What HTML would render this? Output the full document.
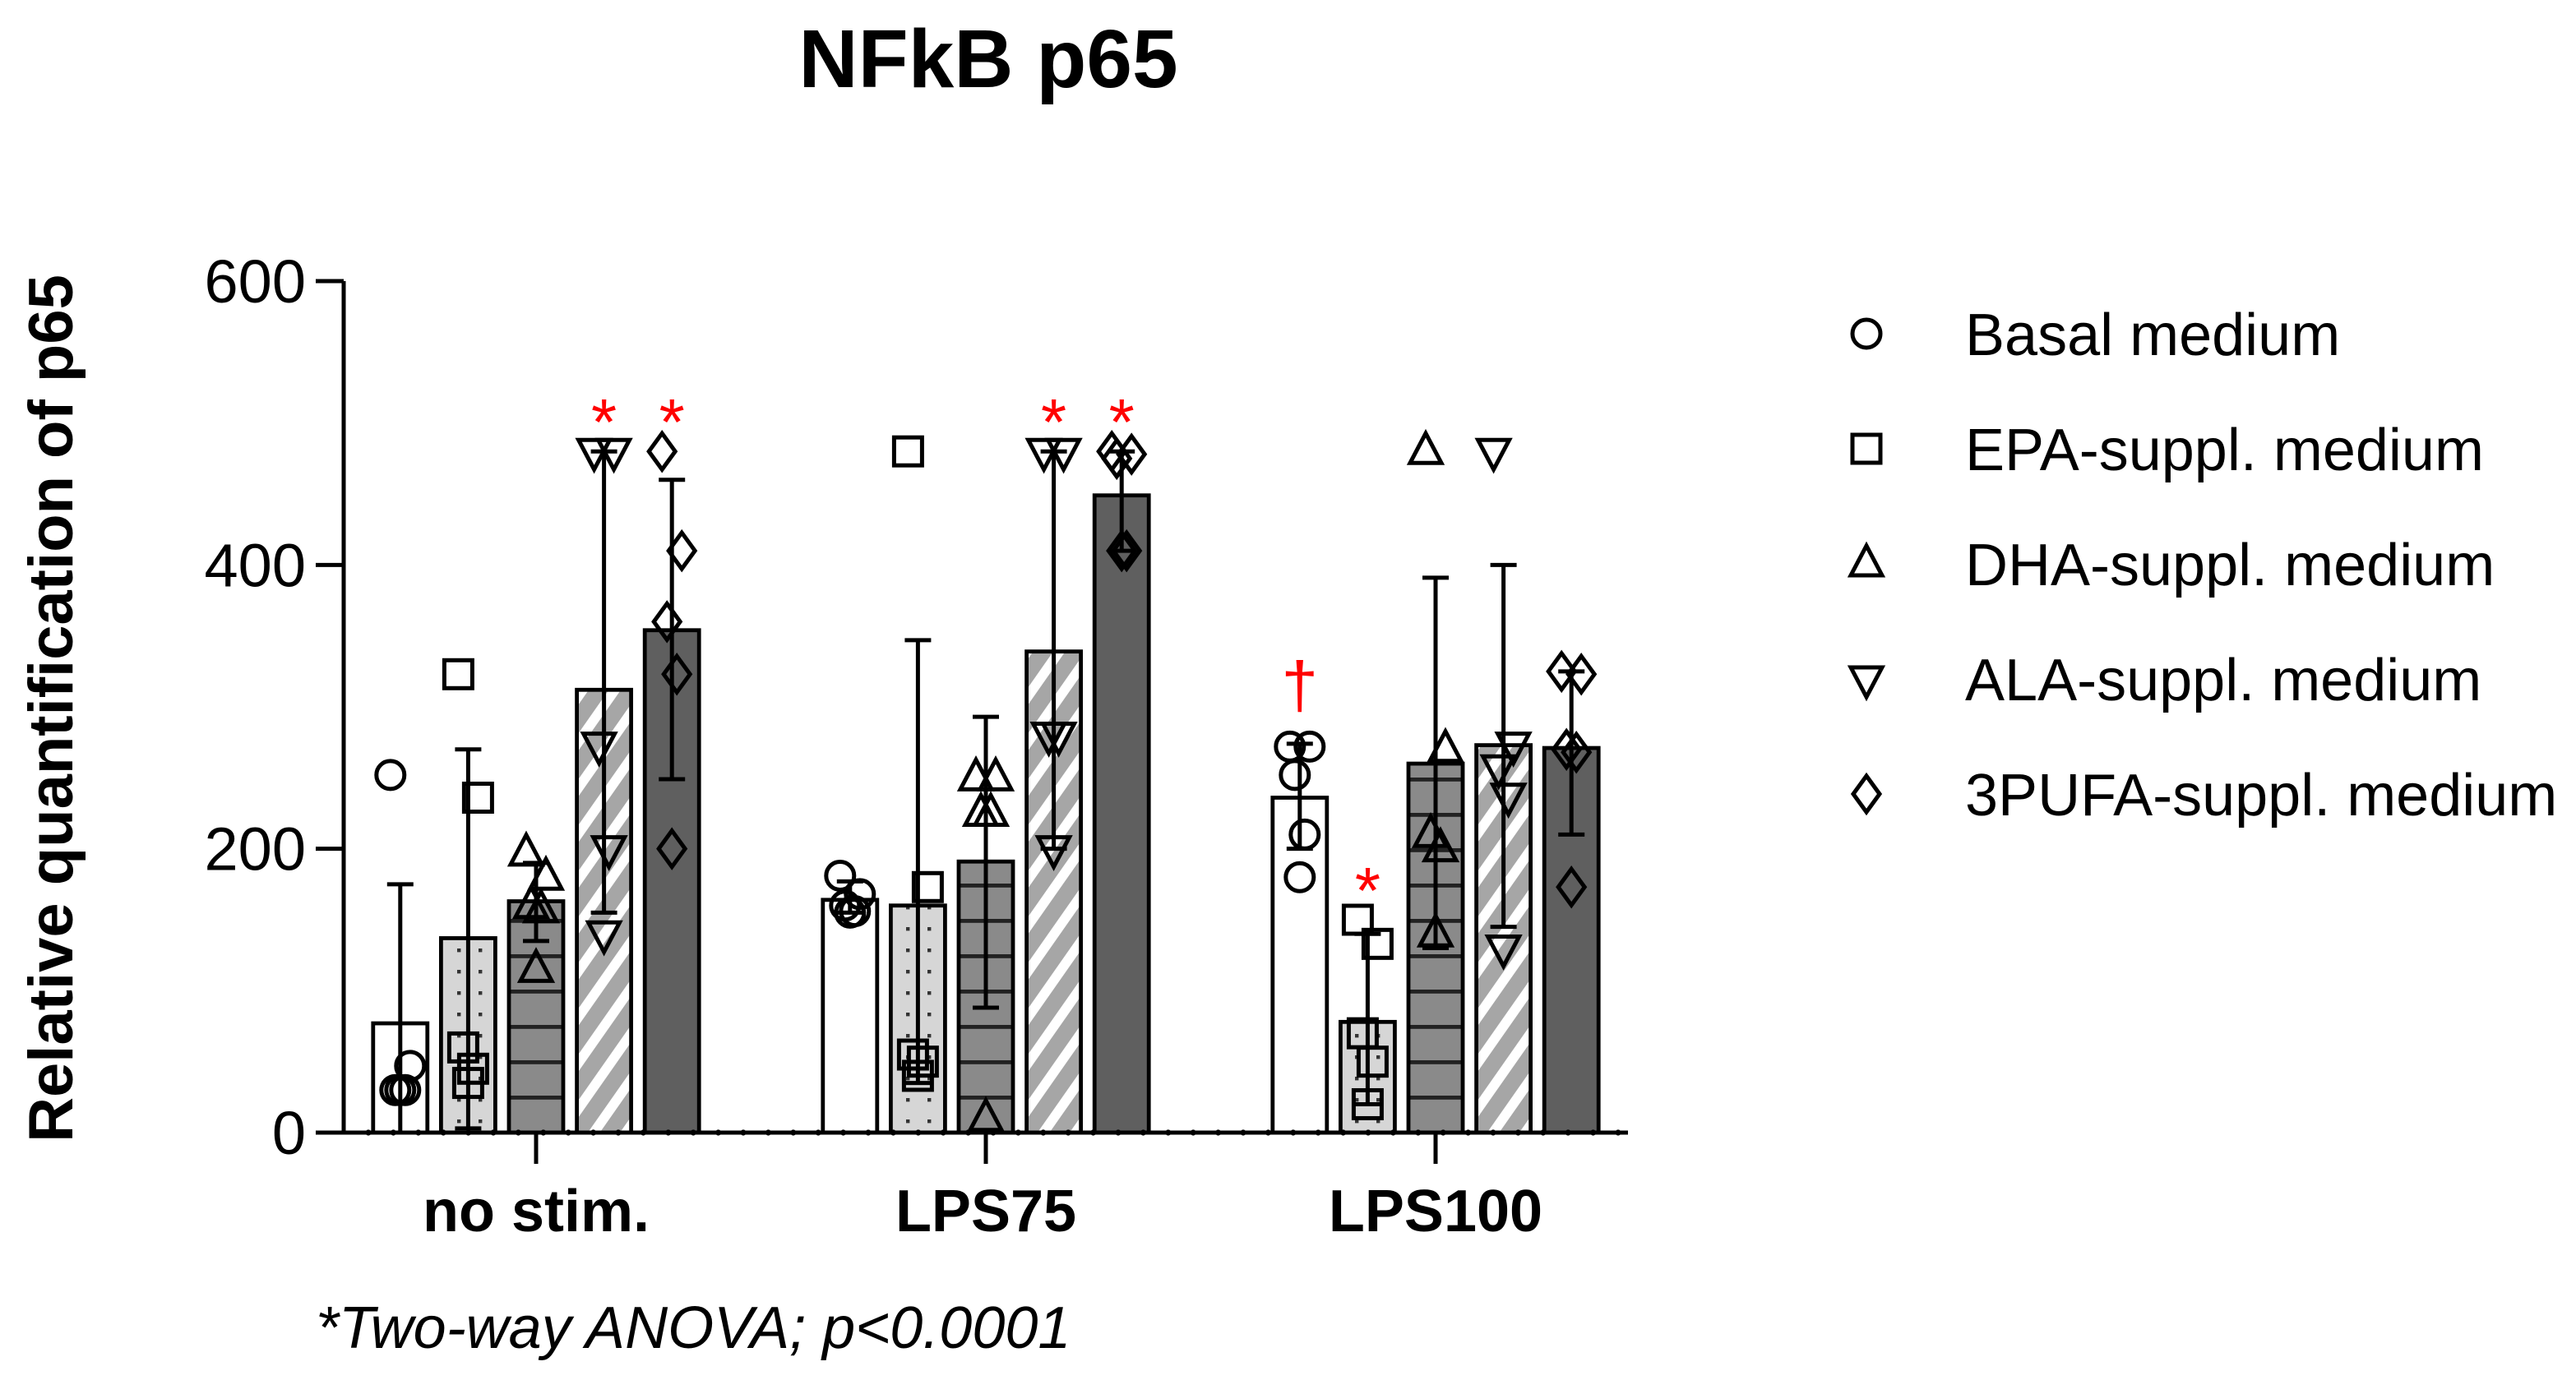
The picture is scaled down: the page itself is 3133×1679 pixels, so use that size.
<!DOCTYPE html>
<html><head><meta charset="utf-8"><style>
html,body{margin:0;padding:0;background:#fff}
svg{display:block}
text{font-family:"Liberation Sans",Arial,sans-serif}
</style></head><body>
<svg id="chart" width="3133" height="1679" viewBox="0 0 1566.5 839.5" xmlns="http://www.w3.org/2000/svg">
<defs>
<pattern id="pDots" patternUnits="userSpaceOnUse" width="13" height="13"><rect width="13" height="13" fill="#d6d6d6"/><rect x="5" y="5" width="2.2" height="2.2" fill="#333"/></pattern>
<pattern id="pLines" patternUnits="userSpaceOnUse" width="10" height="21.5"><rect width="10" height="21.5" fill="#8a8a8a"/><rect y="0" width="10" height="2.4" fill="#222"/></pattern>
<pattern id="pStripe" patternUnits="userSpaceOnUse" width="16" height="16" patternTransform="rotate(35)"><rect width="16" height="16" fill="#a6a6a6"/><rect width="6" height="16" fill="#fff"/></pattern>
</defs>
<text x="601" y="53" font-size="50" font-weight="bold" text-anchor="middle">NFkB p65</text>
<text transform="translate(44,431) rotate(-90)" font-size="38" font-weight="bold" text-anchor="middle">Relative quantification of p65</text>
<g id="plot"></g>
<text x="192" y="820" font-size="36" font-style="italic">*Two-way ANOVA; p&lt;0.0001</text>
</svg>
<script>
const groups=["no stim.","LPS75","LPS100"];
const seriesNames=["Basal medium","EPA-suppl. medium","DHA-suppl. medium","ALA-suppl. medium","3PUFA-suppl. medium"];
const means=[[77,137,163,312,354],[164,160,191,339,449],[236,78,260,273,271]];
const errHi=[[175,270,190,480,460],[177,347,293,480,480],[274,140,391,400,325]];
const errLo=[[0,3,135,155,249],[155,35,88,200,410],[200,20,130,145,210]];
const points=[
 [[252,47,30,30,30],[323,236,60,45,35],[197,180,160,157,115],[480,480,273,200,140],[480,410,360,323,200]],
 [[181,168,160,156,155],[480,173,55,50,40],[250,250,225,225,10],[480,480,280,280,200],[480,478,475,410,410]],
 [[272,272,252,210,180],[150,133,70,50,20],[480,270,210,200,140],[480,273,257,237,130],[325,323,270,268,173]]];
const marks=[[0,3,"*"],[0,4,"*"],[1,3,"*"],[1,4,"*"],[2,0,"†"],[2,1,"*"]];
const yTicks=[0,200,400,600];
const markShapes=["circle","square","up","down","diamond"];
const fills=["#fff","url(#pDots)","url(#pLines)","url(#pStripe)","#5f5f5f"];
const NS="http://www.w3.org/2000/svg";
const plot=document.getElementById('plot');
const svg=document.getElementById('chart');
const X0=209,Y0=689,YT=171,XE=990;
const y=v=>Y0-(v/600)*(Y0-YT);
const gx=g=>326+g*273.5;
const bx=(g,s)=>gx(g)+(s-2)*41.3;
const BW=33;
function el(tag,attrs,parent){const e=document.createElementNS(NS,tag);for(const k in attrs)e.setAttribute(k,attrs[k]);(parent||plot).appendChild(e);return e;}
function marker(shape,cx,cy,parent){
 const st={fill:"none",stroke:"#000","stroke-width":2.5};
 let e;
 if(shape==="circle")e=el("circle",Object.assign({cx:cx,cy:cy,r:8.5},st),parent);
 else if(shape==="square")e=el("rect",Object.assign({x:cx-8.5,y:cy-8.5,width:17,height:17},st),parent);
 else if(shape==="up")e=el("polygon",Object.assign({points:`${cx},${cy-11} ${cx-9.5},${cy+7} ${cx+9.5},${cy+7}`},st),parent);
 else if(shape==="down")e=el("polygon",Object.assign({points:`${cx},${cy+11} ${cx-9.5},${cy-7} ${cx+9.5},${cy-7}`},st),parent);
 else e=el("polygon",Object.assign({points:`${cx},${cy-11} ${cx+8},${cy} ${cx},${cy+11} ${cx-8},${cy}`},st),parent);
 return e;
}
groups.forEach((gn,g)=>{
 seriesNames.forEach((sn,s)=>{
  const m=means[g][s];
  const b=el("rect",{x:bx(g,s)-BW/2,y:y(m),width:BW,height:Y0-y(m),fill:fills[s],stroke:"#000","stroke-width":2.4});
  
  
 });
});
groups.forEach((gn,g)=>{
 seriesNames.forEach((sn,s)=>{
  const offs=[-6,6,-3,3,0];
  points[g][s].forEach((v,i)=>{
   const p=marker(markShapes[s],bx(g,s)+offs[i],y(v));
   
   
  });
 });
});
groups.forEach((gn,g)=>{
 seriesNames.forEach((sn,s)=>{
  const cx=bx(g,s);
  const eg=el("g",{stroke:"#000","stroke-width":2.5});
  
  
  el("line",{x1:cx,x2:cx,y1:y(errHi[g][s]),y2:y(errLo[g][s])},eg);
  el("line",{x1:cx-8,x2:cx+8,y1:y(errHi[g][s]),y2:y(errHi[g][s])},eg);
  if(errLo[g][s]>0)el("line",{x1:cx-8,x2:cx+8,y1:y(errLo[g][s]),y2:y(errLo[g][s])},eg);
 });
});
marks.forEach(([g,s,t])=>{
 const top=Math.max(errHi[g][s],...points[g][s]);
 const tx=el("text",{x:bx(g,s),y:y(top)-(t==="†"?22:12)+(t==="*"?8:0),"font-size":40,fill:"#f00","text-anchor":"middle"});
 tx.textContent=t;
 
 
});
const ax=el("g",{stroke:"#000","stroke-width":2.5});


el("line",{x1:X0,x2:X0,y1:YT,y2:Y0},ax);
el("line",{x1:X0,x2:XE,y1:Y0,y2:Y0},ax);
for(let xx=X0+15;xx<XE;xx+=15.2){el("circle",{cx:xx,cy:Y0,r:1.8,fill:"#000",stroke:"none"},ax);}
yTicks.forEach(t=>{
 el("line",{x1:X0-17,x2:X0,y1:y(t),y2:y(t)},ax);
 const tl=el("text",{x:X0-23,y:y(t)+13,"font-size":37,"text-anchor":"end",stroke:"none"});
 tl.textContent=t;
 
 
});
groups.forEach((gn,g)=>{
 el("line",{x1:gx(g),x2:gx(g),y1:Y0,y2:Y0+19},ax);
 const t=el("text",{x:gx(g),y:749,"font-size":36,"font-weight":"bold","text-anchor":"middle",stroke:"none"});
 t.textContent=gn;
 
 
});
seriesNames.forEach((sn,s)=>{
 const ly=203+s*70;
 const lg=el("g",{},svg);
 
 
 marker(markShapes[s],1135,ly,lg);
 const t=el("text",{x:1195,y:ly+13,"font-size":36},lg);
 t.textContent=sn;
});
</script>
</body></html>
